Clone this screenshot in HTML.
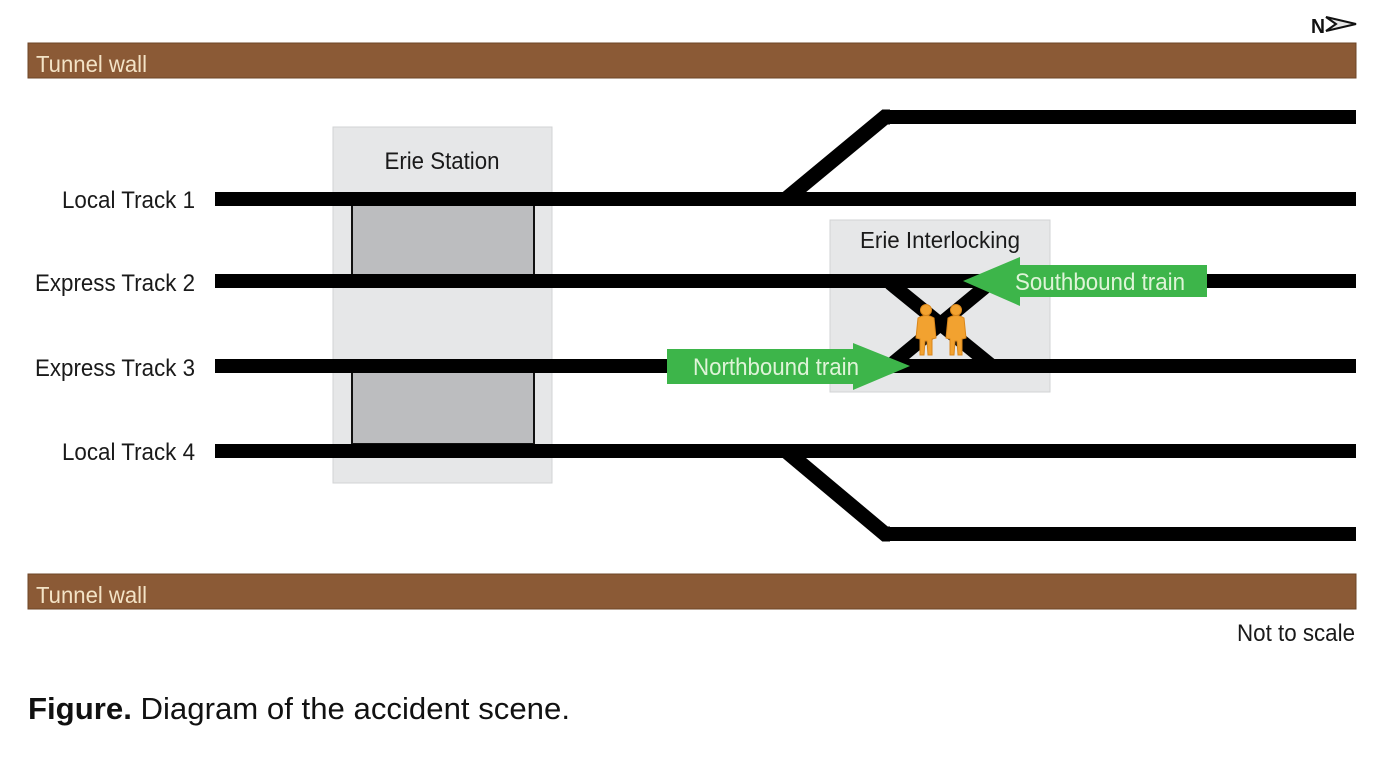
<!DOCTYPE html>
<html>
<head>
<meta charset="utf-8">
<style>
html,body{margin:0;padding:0;background:#fff;}
svg{display:block;}
text{font-family:"Liberation Sans",Arial,sans-serif;}
</style>
</head>
<body>
<svg width="1400" height="761" viewBox="0 0 1400 761" xmlns="http://www.w3.org/2000/svg">
  <rect x="0" y="0" width="1400" height="761" fill="#ffffff"/>

  <!-- North arrow -->
  <text x="1311" y="33" font-size="20" font-weight="bold" fill="#111" textLength="14" lengthAdjust="spacingAndGlyphs">N</text>
  <polygon points="1326,17 1356,24 1326,31 1336,24" fill="#e8e8e8" stroke="#111" stroke-width="2" stroke-linejoin="miter"/>

  <!-- Tunnel walls -->
  <rect x="28" y="43" width="1328" height="35" fill="#8b5a36" stroke="#6e4527" stroke-width="1"/>
  <text x="36" y="72" font-size="23" fill="#f3e3c6" textLength="111" lengthAdjust="spacingAndGlyphs">Tunnel wall</text>
  <rect x="28" y="574" width="1328" height="35" fill="#8b5a36" stroke="#6e4527" stroke-width="1"/>
  <text x="36" y="603" font-size="23" fill="#f3e3c6" textLength="111" lengthAdjust="spacingAndGlyphs">Tunnel wall</text>

  <!-- Erie Station -->
  <rect x="333" y="127" width="219" height="356" fill="#e6e7e8" stroke="#d2d3d4" stroke-width="1"/>
  <text x="442" y="169" font-size="24" fill="#1a1a1a" text-anchor="middle" textLength="115" lengthAdjust="spacingAndGlyphs">Erie Station</text>
  <rect x="352" y="205" width="182" height="70" fill="#bcbdbf" stroke="#111" stroke-width="2"/>
  <rect x="352" y="372" width="182" height="72" fill="#bcbdbf" stroke="#111" stroke-width="2"/>

  <!-- Erie Interlocking -->
  <rect x="830" y="220" width="220" height="172" fill="#e6e7e8" stroke="#d2d3d4" stroke-width="1"/>
  <text x="940" y="248" font-size="23" fill="#1a1a1a" text-anchor="middle" textLength="160" lengthAdjust="spacingAndGlyphs">Erie Interlocking</text>

  <!-- Tracks -->
  <g stroke="#000" stroke-width="15" fill="none" stroke-linejoin="miter">
    <polyline points="786,199 885,117 890,117"/>
    <polyline points="786,451 885,534 890,534"/>
  </g>
  <g fill="#000">
    <rect x="215" y="192" width="1141" height="14"/>
    <rect x="215" y="274" width="1141" height="14"/>
    <rect x="215" y="359" width="1141" height="14"/>
    <rect x="215" y="444" width="1141" height="14"/>
    <rect x="885" y="110" width="471" height="14"/>
    <rect x="885" y="527" width="471" height="14"/>
  </g>
  <!-- Crossover X -->
  <g stroke="#000" stroke-width="14" fill="none">
    <line x1="890" y1="283" x2="992" y2="366"/>
    <line x1="990" y1="283" x2="892" y2="364"/>
  </g>

  <!-- Workers -->
  <g fill="#f2a230" stroke="#d9861a" stroke-width="1">
    <circle cx="926" cy="310" r="5.5"/>
    <path d="M918,318 Q926,313 934,318 L936,338 L932,339 L932,355 L928,355 L927,341 L925,341 L924,355 L920,355 L920,339 L916,338 Z"/>
    <circle cx="956" cy="310" r="5.5"/>
    <path d="M948,318 Q956,313 964,318 L966,338 L962,339 L962,355 L958,355 L957,341 L955,341 L954,355 L950,355 L950,339 L946,338 Z"/>
  </g>

  <!-- Southbound arrow -->
  <polygon points="963,281 1020,257 1020,265 1207,265 1207,297 1020,297 1020,306" fill="#3db54a"/>
  <text x="1015" y="290" font-size="24" fill="#dff4d8" textLength="170" lengthAdjust="spacingAndGlyphs">Southbound train</text>

  <!-- Northbound arrow -->
  <polygon points="667,349 853,349 853,343 910,366 853,390 853,384 667,384" fill="#3db54a"/>
  <text x="693" y="375" font-size="24" fill="#dff4d8" textLength="166" lengthAdjust="spacingAndGlyphs">Northbound train</text>

  <!-- Track labels -->
  <g font-size="24" fill="#1a1a1a" text-anchor="end">
    <text x="195" y="208" textLength="133" lengthAdjust="spacingAndGlyphs">Local Track 1</text>
    <text x="195" y="291" textLength="160" lengthAdjust="spacingAndGlyphs">Express Track 2</text>
    <text x="195" y="376" textLength="160" lengthAdjust="spacingAndGlyphs">Express Track 3</text>
    <text x="195" y="460" textLength="133" lengthAdjust="spacingAndGlyphs">Local Track 4</text>
  </g>

  <!-- Not to scale -->
  <text x="1355" y="641" font-size="24" fill="#1a1a1a" text-anchor="end" textLength="118" lengthAdjust="spacingAndGlyphs">Not to scale</text>

  <!-- Caption -->
  <text x="28" y="719" font-size="31" fill="#111" textLength="542" lengthAdjust="spacingAndGlyphs"><tspan font-weight="bold">Figure.</tspan> Diagram of the accident scene.</text>
</svg>
</body>
</html>
